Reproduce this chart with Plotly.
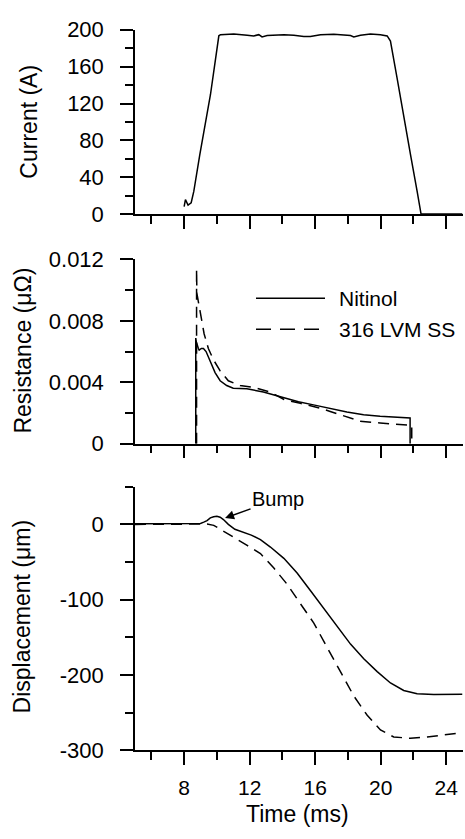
import plotly.graph_objects as go

W, H = 465, 839
FONT = "Liberation Sans, Arial, sans-serif"

# ---------------- data ----------------
time_current = [8.0, 8.08, 8.24, 8.43, 8.59, 8.96, 9.61, 10.12, 10.22, 11.03, 11.85, 12.25,
                12.56, 12.76, 13.07, 14.09, 14.70, 15.31, 15.71, 16.33, 17.14, 17.75, 18.16,
                18.36, 18.77, 19.38, 19.99, 20.40, 20.60, 21.00, 21.42, 21.83, 22.23, 22.38,
                22.47, 25.0]
current = [8.1, 15.8, 9.8, 12.3, 24.6, 64.9, 129.8, 193.5, 194.7, 195.4, 194.0, 193.3,
           194.7, 192.3, 193.7, 194.7, 194.0, 192.6, 192.6, 194.7, 195.1, 194.0, 193.7,
           192.3, 194.0, 195.4, 194.7, 193.3, 187.7, 148.0, 104.0, 64.0, 24.6, 10.0,
           0.0, 0.0]

time_res_nitinol = [8.71, 8.71, 8.75, 8.87, 8.92, 9.05, 9.18, 9.34, 9.59, 9.89, 10.2, 10.6,
                    11.0, 11.83, 12.84, 13.86, 14.98, 15.9, 16.92, 17.94, 18.96, 19.97,
                    21.8, 21.8]
res_nitinol = [0.0, 0.00688, 0.0066, 0.0062, 0.0061, 0.0062, 0.0062, 0.0060, 0.00537,
               0.00463, 0.0041, 0.00379, 0.00362, 0.00358, 0.00337, 0.00305, 0.00274,
               0.00253, 0.0023, 0.00206, 0.00189, 0.00179, 0.00168, 0.0]

time_res_ss = [8.76, 8.76, 8.78, 8.92, 9.08, 9.22, 9.48, 9.79, 10.2, 10.7, 11.42, 12.23,
               13.25, 14.1, 15.1, 16.3, 16.92, 17.94, 18.75, 19.97, 21.9, 21.9]
res_ss = [0.0, 0.01137, 0.00979, 0.00895, 0.0080, 0.00716, 0.0062, 0.00547, 0.00474,
          0.0041, 0.00379, 0.00368, 0.00337, 0.00288, 0.00263, 0.00232, 0.0021, 0.00173,
          0.00147, 0.00135, 0.0012, 0.0]

time_disp_nitinol = [5.0, 7.0, 9.0, 9.2, 9.4, 9.6, 9.8, 10.0, 10.2, 10.4, 10.7, 11.1, 11.6,
                     12.1, 12.66, 13.27, 14.09, 14.9, 15.72, 16.53, 17.34, 18.16, 18.97,
                     19.79, 20.6, 21.41, 22.23, 23.25, 25.0]
disp_nitinol = [0.9, 1.3, 1.3, 3.0, 5.0, 8.6, 10.2, 10.7, 9.5, 6.4, 0.0, -6.5, -10.8,
                -14.2, -20.2, -30.1, -45.1, -64.5, -88.1, -111.7, -135.4, -159.0, -178.3,
                -195.5, -210.6, -220.5, -224.8, -226.0, -225.6]

time_disp_ss = [5.0, 9.0, 9.4, 9.81, 10.22, 10.4, 11.03, 11.85, 12.66, 13.48, 14.29, 15.1,
                15.92, 16.73, 17.55, 18.36, 19.18, 19.99, 20.8, 21.82, 22.84, 24.06, 25.0]
disp_ss = [0.0, 0.0, 0.5, -1.3, -6.4, -8.6, -17.2, -27.9, -38.7, -58.0, -79.5, -105.3,
           -131.0, -163.3, -195.5, -227.8, -253.5, -272.9, -282.3, -284.0, -282.3, -279.3,
           -276.4]

series_names = ["Nitinol", "316 LVM SS"]
disp_tick_vals = [-300, -200, -100, 0]
disp_tick_text = ["-300", "-200", "-100", "0"]
bump_label = "Bump"
bump_time, bump_disp = 10.5, 8.5

# ---------------- layout helpers ----------------
def px_x(p):
    return p / W


def px_y(p):
    return 1 - p / H


X_DOMAIN = [px_x(135), px_x(462.5)]
TICKFONT = dict(family=FONT, size=22, color="black")
XTICKFONT = dict(family=FONT, size=21, color="black")


def make_xaxis(anchor, labels):
    return dict(domain=X_DOMAIN, range=[5, 25], anchor=anchor,
                showline=True, linecolor="black", linewidth=1.5,
                showgrid=False, zeroline=False,
                ticks="outside", ticklen=13, tickwidth=1.5, tickcolor="black",
                tickmode="linear", tick0=0, dtick=4,
                showticklabels=labels, tickfont=XTICKFONT, ticklabelstandoff=5,
                minor=dict(ticks="outside", ticklen=8, tickwidth=1.5, tickcolor="black",
                           tickmode="linear", tick0=0, dtick=2, showgrid=False),
                fixedrange=True)


def make_yaxis(anchor, domain_px, rng, dtick, minor_dtick, **kw):
    d = dict(domain=[px_y(domain_px[1]), px_y(domain_px[0])], range=rng, anchor=anchor,
             showline=True, linecolor="black", linewidth=1.5,
             showgrid=False, zeroline=False,
             ticks="outside", ticklen=13, tickwidth=1.5, tickcolor="black",
             tickmode="linear", tick0=0, dtick=dtick,
             tickfont=TICKFONT, ticklabelstandoff=12,
             minor=dict(ticks="outside", ticklen=8, tickwidth=1.5, tickcolor="black",
                        tickmode="linear", tick0=0, dtick=minor_dtick, showgrid=False),
             fixedrange=True)
    d.update(kw)
    return d


fig = go.Figure()
line_solid = dict(color="black", width=1.5)
line_dash = dict(color="black", width=1.5, dash="11px,7px")

fig.add_trace(go.Scatter(x=time_current, y=current, mode="lines", line=line_solid,
                         xaxis="x", yaxis="y", showlegend=False))
fig.add_trace(go.Scatter(x=time_res_nitinol, y=res_nitinol, mode="lines", line=line_solid,
                         name=series_names[0], xaxis="x2", yaxis="y2", showlegend=False))
fig.add_trace(go.Scatter(x=time_res_ss, y=res_ss, mode="lines", line=line_dash,
                         name=series_names[1], xaxis="x2", yaxis="y2", showlegend=False))
fig.add_trace(go.Scatter(x=time_disp_nitinol, y=disp_nitinol, mode="lines", line=line_solid,
                         name=series_names[0], xaxis="x3", yaxis="y3", showlegend=False))
fig.add_trace(go.Scatter(x=time_disp_ss, y=disp_ss, mode="lines", line=line_dash,
                         name=series_names[1], xaxis="x3", yaxis="y3", showlegend=False))

annotations = []
# axis titles
TITLEFONT = dict(family=FONT, size=23, color="black")
for text, cx, cy, ang in [("Current (A)", 29, 113, -90),
                          ("Resistance (\u03bc\u03a9)", 23, 349, -90),
                          ("Displacement (\u03bcm)", 22, 624, -90),
                          ("Time (ms)", 297, 827, 0)]:
    annotations.append(dict(text=text, xref="paper", yref="paper", x=px_x(cx), y=px_y(cy),
                            xanchor="center", yanchor="middle", textangle=ang,
                            showarrow=False, font=TITLEFONT))

# legend (manual, to match the long line samples)
LEGFONT = dict(family=FONT, size=21, color="black")
shapes = []
for name, ypx, dash in [(series_names[0], 295, "solid"), (series_names[1], 327, "15px,9px")]:
    shapes.append(dict(type="line", xref="paper", yref="paper",
                       x0=px_x(256), x1=px_x(325), y0=px_y(ypx), y1=px_y(ypx),
                       line=dict(color="black", width=1.5, dash=dash)))
    annotations.append(dict(text=name, xref="paper", yref="paper", x=px_x(337), y=px_y(ypx),
                            xanchor="left", yanchor="middle", showarrow=False, font=LEGFONT))

# Bump annotation
annotations.append(dict(text=bump_label, x=bump_time, y=bump_disp, xref="x3", yref="y3",
                        showarrow=True, ax=53, ay=-19, arrowhead=2, arrowsize=1.2,
                        arrowwidth=1.5, arrowcolor="black",
                        font=dict(family=FONT, size=20, color="black")))

fig.update_layout(
    width=W, height=H, autosize=False,
    margin=dict(l=0, r=0, t=0, b=0, pad=0),
    paper_bgcolor="white", plot_bgcolor="white",
    font=dict(family=FONT, color="black"),
    showlegend=False,
    xaxis=make_xaxis("y", False),
    xaxis2=make_xaxis("y2", False),
    xaxis3=make_xaxis("y3", True),
    yaxis=make_yaxis("x", (18.33, 208.33), [0, 200], 40, 20),
    yaxis2=make_yaxis("x2", (255, 445), [0, 0.012], 0.004, 0.002),
    yaxis3=make_yaxis("x3", (489.3, 761), [-300, 50], 100, 50,
                      tickmode="array", tickvals=disp_tick_vals, ticktext=disp_tick_text),
    annotations=annotations,
    shapes=shapes,
)

fig.write_html("out.html", config={"displayModeBar": False},
               post_script="document.body.style.margin='0';")
